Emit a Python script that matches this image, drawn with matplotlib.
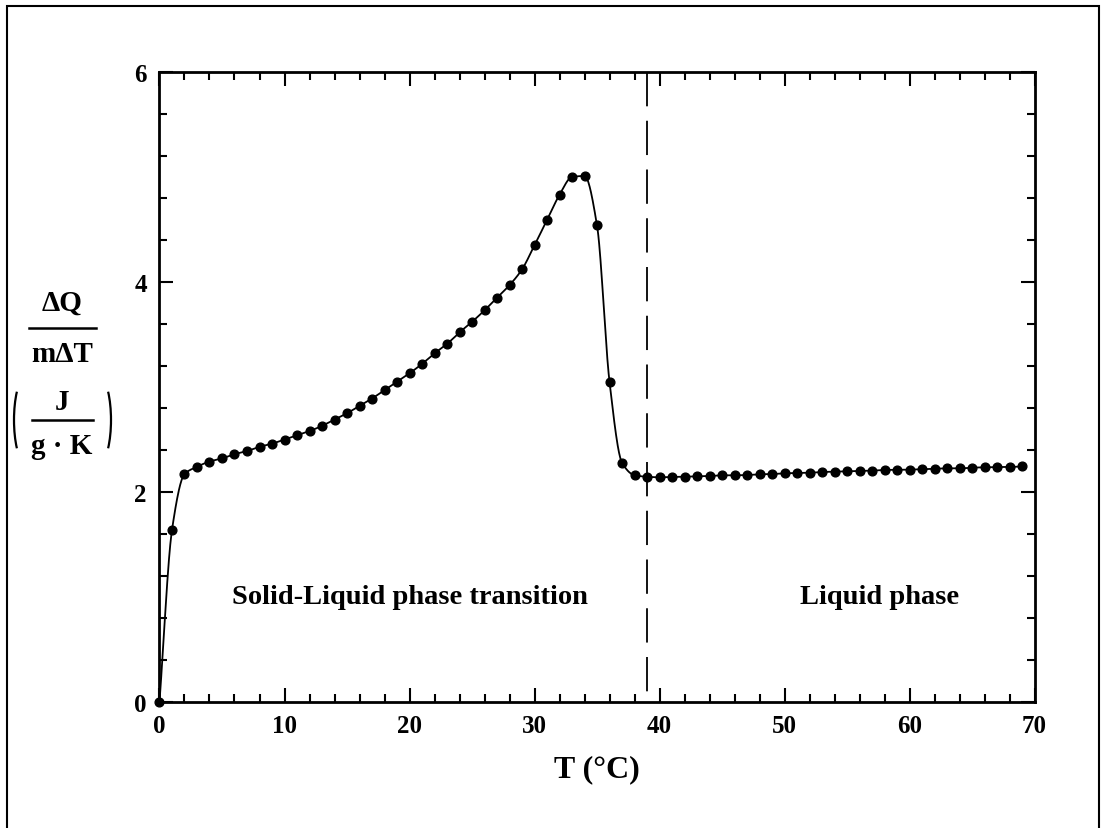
import numpy as np
import matplotlib
matplotlib.use('Agg')
from matplotlib import pyplot as plt
from matplotlib.patches import Arc, Rectangle
from matplotlib.lines import Line2D
from matplotlib.ticker import MultipleLocator

# data
temp = list(range(0, 70))
heat = [0.00, 1.64, 2.17, 2.24, 2.29, 2.32, 2.36, 2.39, 2.43, 2.46,
        2.50, 2.54, 2.58, 2.63, 2.69, 2.75, 2.82, 2.89, 2.97, 3.05,
        3.13, 3.22, 3.32, 3.41, 3.52, 3.62, 3.73, 3.85, 3.97, 4.12,
        4.35, 4.59, 4.83, 5.00, 5.01, 4.54, 3.05, 2.28, 2.16, 2.145,
        2.14, 2.143, 2.146, 2.149, 2.152, 2.159, 2.159, 2.162, 2.168, 2.171,
        2.178, 2.181, 2.184, 2.190, 2.194, 2.197, 2.200, 2.203, 2.210, 2.210,
        2.213, 2.216, 2.222, 2.225, 2.225, 2.232, 2.235, 2.238, 2.238, 2.244]
t_boundary = 39
region_labels = ['Solid-Liquid phase transition', 'Liquid phase']
region_pos = [(20, 1.0), (57.6, 1.0)]

W, H = 1105, 829
serif = ['Liberation Serif', 'DejaVu Serif']


def pchip(x, y, xn):
    # monotone cubic, only used to draw the smooth line between the points
    x = np.asarray(x, float); y = np.asarray(y, float)
    h = np.diff(x); d = np.diff(y) / h
    m = np.zeros_like(y)
    for k in range(1, len(x) - 1):
        if d[k-1] * d[k] > 0:
            w1 = 2*h[k] + h[k-1]; w2 = h[k] + 2*h[k-1]
            m[k] = (w1 + w2) / (w1/d[k-1] + w2/d[k])
    m[0] = d[0]; m[-1] = d[-1]
    idx = np.clip(np.searchsorted(x, xn) - 1, 0, len(x) - 2)
    t = (xn - x[idx]) / h[idx]
    h00 = 2*t**3 - 3*t**2 + 1; h10 = t**3 - 2*t**2 + t
    h01 = -2*t**3 + 3*t**2; h11 = t**3 - t**2
    return h00*y[idx] + h10*h[idx]*m[idx] + h01*y[idx+1] + h11*h[idx]*m[idx+1]


fig = plt.figure(figsize=(W/100, H/100), dpi=100)
ax = fig.add_axes([159.5/W, 1 - 703/H, 875/W, 630/H])

ax.set_xlim(0, 70)
ax.set_ylim(0, 6)

xs = np.linspace(temp[0], temp[-1], 2000)
ax.plot(xs, pchip(temp, heat, xs), color='black', lw=1.3)
ax.plot(temp, heat, 'o', color='black', ms=6.3, clip_on=False)
# dashed boundary drawn top-down so a dash starts at the top spine
ax.plot([t_boundary, t_boundary], [6, 0], color='black', lw=1.3, dashes=(19, 8))

ax.xaxis.set_major_locator(MultipleLocator(10))
ax.xaxis.set_minor_locator(MultipleLocator(2))
ax.yaxis.set_major_locator(MultipleLocator(2))
ax.yaxis.set_minor_locator(MultipleLocator(0.4))
ax.tick_params(which='both', direction='in', top=True, right=True, width=1.5)
ax.tick_params(which='major', length=10, pad=9)
ax.tick_params(which='minor', length=6)
for s in ax.spines.values():
    s.set_linewidth(2)
for lab in ax.get_xticklabels() + ax.get_yticklabels():
    lab.set_fontfamily(serif)
    lab.set_fontweight('bold')
    lab.set_fontsize(18)

ax.set_xlabel('T (\u00b0C)', family=serif, weight='bold', fontsize=23, labelpad=12)

for txt, (x, y) in zip(region_labels, region_pos):
    ax.text(x, y, txt, ha='center', va='center', family=serif,
            weight='bold', fontsize=20.5)

# stacked y label built in figure pixels
def fx(px): return px / W
def fy(py): return 1 - py / H

kw = dict(ha='center', va='center', family=serif, weight='bold', fontsize=21)
fig.text(fx(62), fy(303), '\u0394Q', **kw)
fig.add_artist(Line2D([fx(29), fx(96)], [fy(329), fy(329)], color='black', lw=1.8))
fig.text(fx(62), fy(355), 'm\u0394T', **kw)
fig.text(fx(62), fy(402), 'J', **kw)
fig.add_artist(Line2D([fx(32), fx(93)], [fy(421), fy(421)], color='black', lw=1.8))
fig.text(fx(62), fy(447), 'g \u00b7 K', **kw)
fig.add_artist(Arc((fx(27), fy(421)), 26/W, 90/H, theta1=105, theta2=255,
                   transform=fig.transFigure, color='black', lw=1.6))
fig.add_artist(Arc((fx(98), fy(421)), 26/W, 90/H, theta1=-75, theta2=75,
                   transform=fig.transFigure, color='black', lw=1.6))

# outer frame (bottom edge runs off the picture)
fig.add_artist(Rectangle((fx(7), fy(840)), 1092/W, 833/H, fill=False,
                         edgecolor='black', lw=1.5, transform=fig.transFigure,
                         clip_on=False))

plt.savefig('out.png', dpi=100)
